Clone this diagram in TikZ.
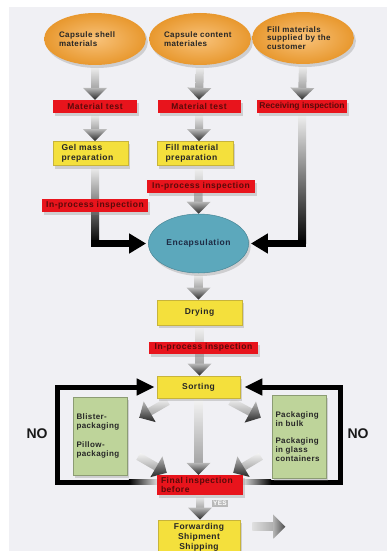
\documentclass[tikz,border=0pt]{standalone}
\usepackage{fontspec}
\setmainfont{Liberation Sans}
\usetikzlibrary{shapes.geometric,shadows,arrows.meta,calc}
\definecolor{bgc}{HTML}{F0F0F4}
\definecolor{redb}{HTML}{E8141C}
\definecolor{redt}{HTML}{5A0A0A}
\definecolor{yel}{HTML}{F4E03C}
\definecolor{yelb}{HTML}{C8B43A}
\definecolor{grn}{HTML}{BED49A}
\definecolor{grnb}{HTML}{8C9C74}
\definecolor{tealc}{HTML}{5CA8BC}
\definecolor{enct}{HTML}{1E2B44}
\definecolor{orgin}{HTML}{F8C27A}
\definecolor{orgout}{HTML}{E8982E}
\pgfdeclarelayer{back}\pgfdeclarelayer{conn}\pgfsetlayers{back,conn,main}
\newcommand\fatarr[2]{%
  \path (#1) coordinate (fas) (#2) coordinate (fae);%
  \pgfpointdiff{\pgfpointanchor{fas}{center}}{\pgfpointanchor{fae}{center}}%
  \pgfgetlastxy{\fadx}{\fady}%
  \pgfmathsetmacro\faang{atan2(\fady,\fadx)}%
  \pgfmathsetmacro\falen{veclen(\fadx,\fady)}%
  \begin{scope}[shift={(fas)},rotate=\faang]
    \shade[fa shaft] (0pt,-4pt) -- (\falen pt-11pt,-4pt) -- (\falen pt-11pt,4pt) -- (0pt,4pt) -- cycle;
    \shade[fa head] (\falen pt-12pt,-12pt) -- (\falen pt,0pt) -- (\falen pt-12pt,12pt) -- cycle;
  \end{scope}}
\newcommand\txtf[3]{\fontsize{#1}{#2}\selectfont\bfseries\addfontfeature{LetterSpace=#3}\hyphenpenalty=10000 }
\begin{document}
\begin{tikzpicture}[x=1pt,y=-1pt,
  font=\txtf{8.5}{9.5}{6},
  fa shaft/.style={top color=gray!8, bottom color=gray!72},
  fa head/.style={top color=gray!55, bottom color=black!85},
  shad/.style={drop shadow={opacity=0.3,shadow xshift=2pt,shadow yshift=-3pt}},
  src/.style={ellipse, minimum width=98pt, minimum height=52pt, inner sep=0pt,
    inner color=orgin, outer color=orgout, shad, text width=72pt, align=left, text=black!85,
    font=\txtf{8}{8.6}{5}},
  redbox/.style={rectangle, fill=redb, text=redt, minimum height=13pt, inner sep=1pt, shad},
  yelbox/.style={rectangle, fill=yel, draw=yelb, line width=.6pt, text=black!85, shad},
  grnbox/.style={rectangle, fill=grn, draw=grnb, line width=.6pt, text=black!85, shad,
    align=left, text width=47pt, font=\txtf{8}{9}{5}},
  blkarr/.style={line width=7pt, -{Triangle[width=19pt,length=17pt]}, shorten >=2pt},
  loopl/.style={line width=5pt, line join=miter, -{Triangle[width=16pt,length=18pt]}},
  nolab/.style={font=\bfseries\fontsize{14}{14}\selectfont, text=black!90}]
\useasboundingbox (0,0) rectangle (387,551);
\begin{pgfonlayer}{back}
  \fill[white] (0,0) rectangle (387,551);
  \fill[bgc] (9,7) rectangle (387,551);
\end{pgfonlayer}

% nodes
\node[src] (e1) at (95,39) {Capsule shell\\materials};
\node[src] (e2) at (200,39) {Capsule content\\materiales};
\node[src] (e3) at (303,38) {Fill materials\\supplied by the\\customer};

\node[redbox, minimum width=84pt] (mt1) at (95,106.5) {Material test};
\node[redbox, minimum width=83pt] (mt2) at (199,106.5) {Material test};
\node[redbox, minimum width=90pt, font=\txtf{8.5}{9.5}{0}] (ri) at (302,106.5) {Receiving inspection};

\node[yelbox, minimum width=75pt, minimum height=23pt, text width=58pt, align=left] (gm) at (90.5,153.5) {Gel mass\\preparation};
\node[yelbox, minimum width=76pt, minimum height=23pt, text width=59pt, align=left] (fm) at (195,153.5) {Fill material\\preparation};

\node[redbox, minimum width=106pt] (ip1) at (95,205.5) {In-process inspection};
\node[redbox, minimum width=108pt] (ip2) at (201,186.5) {In-process inspection};

\node[ellipse, fill=tealc, draw=tealc!80!black, line width=.5pt, minimum width=97pt, minimum height=59pt, text=enct, shad] (enc) at (198.5,243.5) {Encapsulation};

\node[yelbox, minimum width=85pt, minimum height=25pt] (dry) at (199.5,312.5) {Drying};
\node[redbox, minimum width=109pt, minimum height=12pt] (ip3) at (203.5,347.5) {In-process inspection};
\node[yelbox, minimum width=83pt, minimum height=22pt] (sort) at (198.5,387) {Sorting};

\node[grnbox, minimum width=54pt, minimum height=78pt] (gl) at (100,436) {Blister-\\packaging\\[10pt]Pillow-\\packaging};
\node[grnbox, minimum width=52pt, minimum height=83pt] (gr) at (299,436.5) {Packaging\\in bulk\\[8pt]Packaging\\in glass\\containers};

\node[redbox, minimum width=86pt, minimum height=20pt, text width=78pt, align=left, font=\txtf{8.5}{9}{6}] (fi) at (200,485) {Final inspection\\before};
\node[yelbox, minimum width=82pt, minimum height=35pt, align=center, font=\txtf{8.5}{10}{5}] (fw) at (199,537.5) {Forwarding\\Shipment\\Shipping};

\node[nolab] (nol) at (37,434) {NO};
\node[nolab] (nor) at (358,434) {NO};

% connectors
\begin{pgfonlayer}{conn}
\fatarr{e1.south}{mt1.north}
\fatarr{mt1.south}{mt1.south |- gm.north}
\fatarr{e2.south}{mt2.north}
\fatarr{mt2.south}{mt2.south |- fm.north}
\fatarr{e3.south}{ri.north}

\coordinate (c1) at (mt1.south |- enc.west);
\shade[top color=gray!10, bottom color=black] ($(gm.south -| mt1.south)+(-4,0)$) rectangle ($(c1)+(4,0)$);
\draw[blkarr] ($(c1)+(-4,0)$) -- (enc.west);

\coordinate (c3) at (ri.south |- enc.east);
\shade[top color=gray!10, bottom color=black] ($(ri.south)+(-4,0)$) rectangle ($(c3)+(4,0)$);
\draw[blkarr] ($(c3)+(4,0)$) -- (enc.east);

\fatarr{mt2.south |- fm.south}{enc.north}
\fatarr{enc.south}{enc.south |- dry.north}
\fatarr{dry.south}{dry.south |- sort.north}

\coordinate (d1s) at ($(sort.south west)+(11,3)$);
\coordinate (d1e) at ($(gl.north east)+(12,21)$);
\coordinate (d2s) at ($(sort.south east)+(-10,3)$);
\coordinate (d2e) at ($(gr.north west)+(-11,23)$);
\coordinate (d3s) at ($(gl.south east)+(11,-19)$);
\coordinate (d3e) at ($(fi.north west)+(10,-2)$);
\coordinate (d4s) at ($(gr.south west)+(-11,-22)$);
\coordinate (d4e) at ($(fi.north east)+(-10,-2)$);
\fatarr{d1s}{d1e}
\fatarr{d2s}{d2e}
\fatarr{d3s}{d3e}
\fatarr{d4s}{d4e}
\fatarr{sort.south}{sort.south |- fi.north}
\fatarr{fi.south}{fi.south |- fw.north}

\begin{scope}[fa shaft/.style={left color=gray!25, right color=gray!65},
              fa head/.style={left color=gray!60, right color=black!70}]
\coordinate (fws) at ($(fw.north east)+(12,7)$);
\coordinate (fwe) at ($(fw.north east)+(45,7)$);
\fatarr{fws}{fwe}
\end{scope}

\draw[loopl, shorten >=2pt] ($(fi.west)+(0,-3)$) -| ($(sort.west)+(-99,0)$) -- (sort.west);
\draw[loopl, shorten >=4pt] ($(fi.east)+(0,-3)$) -| ($(sort.east)+(100,0)$) -- (sort.east);
\shade[left color=black, right color=gray!30] ($(fi.west)+(-28,-5.5)$) rectangle ($(fi.west)+(0,-0.5)$);
\shade[left color=gray!30, right color=black] ($(fi.east)+(0,-5.5)$) rectangle ($(fi.east)+(28,-0.5)$);
\end{pgfonlayer}

\node[font=\txtf{6.5}{7}{4}, text=white, fill=gray!55, inner sep=1.2pt] (yes) at (220,503) {YES};
\end{tikzpicture}
\end{document}
